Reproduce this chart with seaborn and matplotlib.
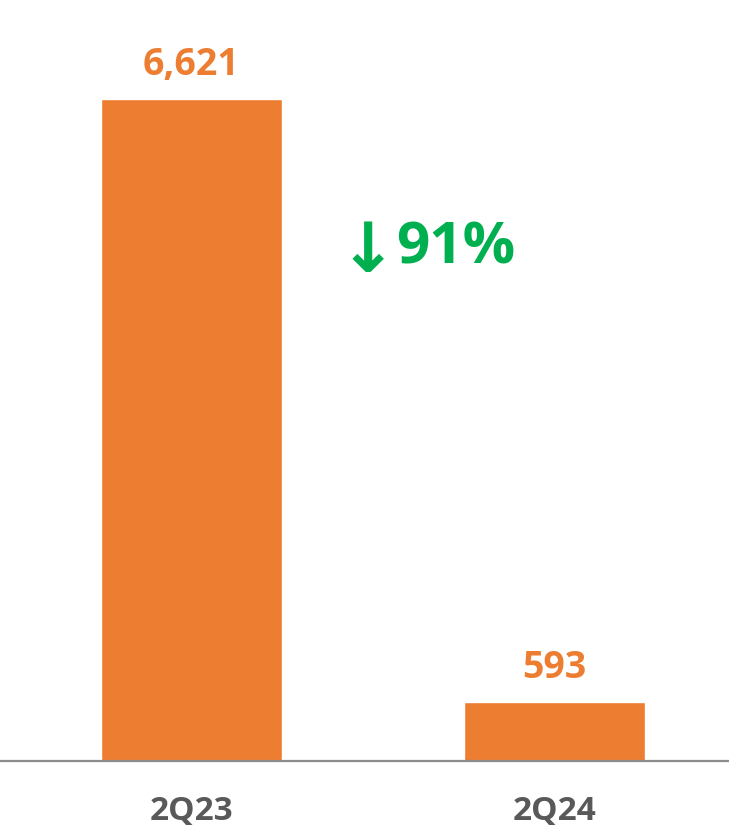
import matplotlib
matplotlib.use("Agg")
import matplotlib.pyplot as plt
import seaborn as sns
import pandas as pd

categories = ["2Q23", "2Q24"]
values = [6621, 593]
value_labels = ["6,621", "593"]
change_arrow = "\u2193"
change_label = "91%"

sns.set_theme(style="white")
plt.rcParams['font.family'] = ['Open Sans', 'DejaVu Sans']

bar_color = "#ED7D31"
green = "#00B050"
df = pd.DataFrame({"quarter": categories, "value": values})

fig = plt.figure(figsize=(7.29, 8.29), dpi=100)
ax = fig.add_axes([0, 67 / 829, 1, 762 / 829])

sns.barplot(data=df, x="quarter", y="value", color=bar_color, saturation=1,
            width=0.5, ax=ax)

ax.set_xlim(-191.5 / 363, (729 - 191.5) / 363)
ax.set_ylim(0, 7620)

for i, (v, lab) in enumerate(zip(values, value_labels)):
    ax.annotate(lab, xy=(i, v), xytext=(0, 25), textcoords="offset points",
                ha="center", va="center", fontsize=27, fontweight="bold",
                color=bar_color)

ax.text((368 - 191.5) / 363, 7620 - 252 * 10, change_arrow,
        ha="center", va="center", fontsize=50, fontweight="bold",
        color=green, family="DejaVu Sans")
ax.text((456 - 191.5) / 363, 7620 - 248 * 10, change_label,
        ha="center", va="center", fontsize=42, fontweight="bold",
        color=green)

ax.set_xlabel("")
ax.set_ylabel("")
ax.set_yticks([])
ax.tick_params(axis="x", length=0, pad=24, labelsize=24, labelcolor="#595959")
for t in ax.get_xticklabels():
    t.set_fontweight("bold")

for s in ["top", "right", "left"]:
    ax.spines[s].set_visible(False)
ax.spines["bottom"].set_color("#8C8C8C")
ax.spines["bottom"].set_linewidth(1.6)
ax.patch.set_alpha(0)

fig.savefig("out.png", dpi=100, facecolor="white")
